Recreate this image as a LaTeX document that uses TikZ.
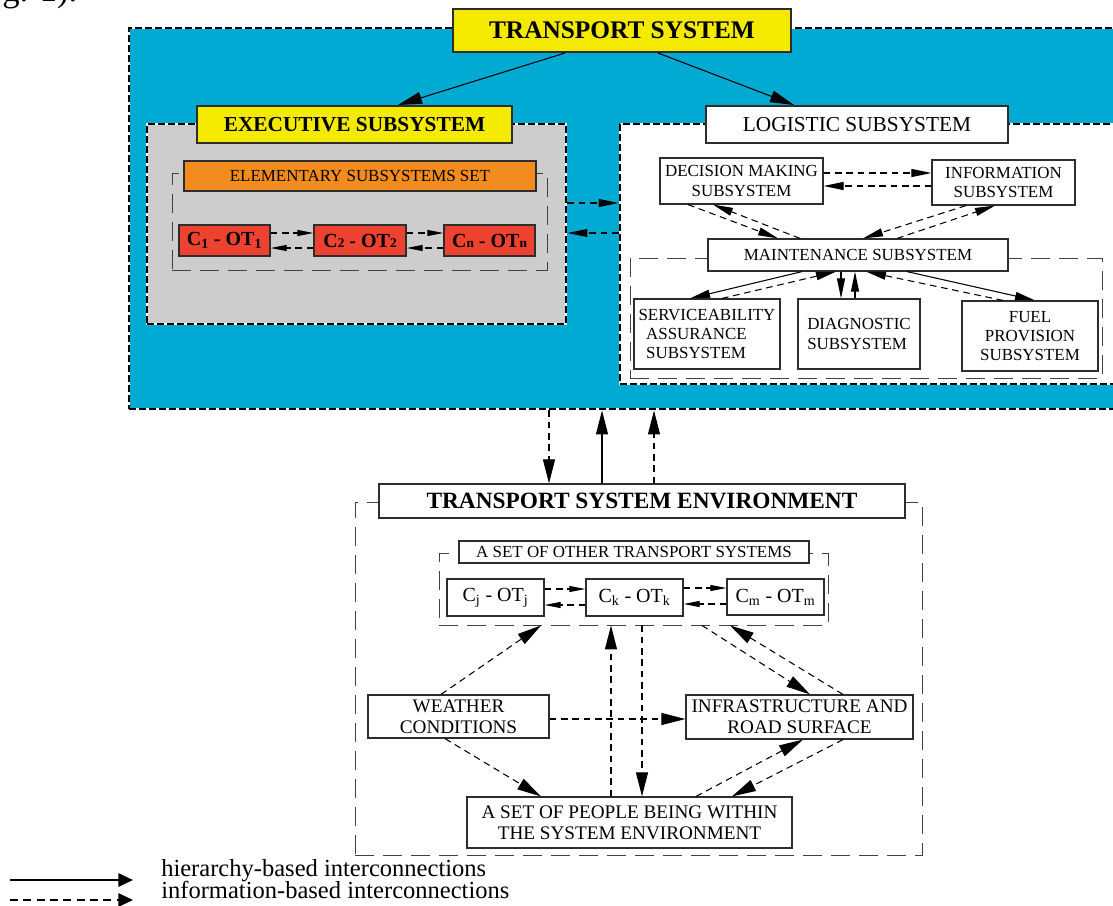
\documentclass[tikz,border=0pt]{standalone}
\usepackage{fontspec}
\setmainfont{Liberation Serif}
\usetikzlibrary{arrows.meta}
\definecolor{tsblue}{RGB}{0,170,210}
\definecolor{tsgray}{RGB}{205,205,205}
\definecolor{tsyellow}{RGB}{243,234,0}
\definecolor{tsorange}{RGB}{243,140,30}
\definecolor{tsred}{RGB}{238,66,48}
\definecolor{edgec}{RGB}{45,45,45}
\newcommand\fsz[2]{\fontsize{#1}{#2}\selectfont}
\newcommand\smidx[1]{{\fontsize{10}{10}\selectfont #1}}
\tikzset{
  spanbox/.style n args={4}{at={({(#1+#3)/2},{(#2+#4)/2})}, anchor=center,
     minimum width={(#3-#1)*0.75pt}, minimum height={(#4-#2)*0.75pt}},
  box/.style={draw=edgec, line width=0.9pt, fill=white, inner sep=0pt, align=center, text=black},
  hbox/.style={box, line width=1.5pt},
  region/.style={draw=white, line width=2.2pt, inner sep=0pt,
    postaction={draw=black, line width=2.2pt, dash pattern=on 5.5pt off 2pt}},
  bracket/.style={draw=black!75, line width=0.7pt, dash pattern=on 14pt off 7pt, inner sep=0pt},
  hier/.style={draw=black, line width=0.8pt},
  info/.style={draw=black, line width=0.8pt, dash pattern=on 5pt off 3.5pt},
  tipS/.style={-{Triangle[length=12pt,width=4.5pt]}},
  tipM/.style={-{Triangle[length=15pt,width=6pt]}},
  tipL/.style={-{Triangle[length=18pt,width=9pt]}},
  tipLeg/.style={-{Triangle[length=11pt,width=10pt]}},
  fsmall/.style={font=\fsz{12.7}{14.5}},
  fbottom/.style={font=\fsz{14.4}{16}},
}
\begin{document}
\begin{tikzpicture}[x=0.75pt,y=-0.75pt]
\useasboundingbox (0,0) rectangle (1113,906);
\clip (0,0) rectangle (1113,906);

% fragment of running text at the top-left corner
\node[anchor=base west, font=\fsz{26}{30}, inner sep=0pt] (figref) at (2,2) {g. 1).};

% ---------------- transport system ----------------
\node[region, fill=tsblue, spanbox={129}{28}{1135}{409}] (blue) {};
\node[region, fill=tsgray, spanbox={147}{124}{566}{324}] (gray) {};
\node[region, fill=white, spanbox={620}{124}{1135}{384}] (logr) {};

\node[hbox, fill=tsyellow, spanbox={453}{9}{791}{52}, font=\fsz{19}{22}\bfseries] (ts) {TRANSPORT SYSTEM};
\node[hbox, fill=tsyellow, spanbox={197}{106}{512}{143}, font=\fsz{16}{19}\bfseries] (exec) {EXECUTIVE SUBSYSTEM};
\node[hbox, spanbox={706}{106}{1008}{143}, font=\fsz{16}{19}] (logt) {LOGISTIC SUBSYSTEM};

% executive subsystem content
\node[bracket, spanbox={172}{173}{547}{270}] (ebr) {};
\node[box, fill=tsorange, spanbox={184}{161}{536}{191}, fsmall] (ess) {ELEMENTARY SUBSYSTEMS SET};
\node[box, fill=tsred, spanbox={179}{225}{270}{256}, font=\fsz{15}{17}\bfseries] (c1) {C\textsubscript{1} - OT\textsubscript{1}};
\node[box, fill=tsred, spanbox={314}{225}{406}{256}, font=\fsz{15}{17}\bfseries] (c2) {C\smidx{2} - OT\smidx{2}};
\node[box, fill=tsred, spanbox={444}{225}{535}{256}, font=\fsz{15}{17}\bfseries] (cn) {C\smidx{n} - OT\smidx{n}};

% logistic subsystem content
\node[bracket, spanbox={630}{258}{1102}{378}] (mbr) {};
\node[box, spanbox={660}{158}{823}{204}, fsmall] (dec) {DECISION MAKING\\SUBSYSTEM};
\node[box, spanbox={932}{160}{1075}{205}, fsmall] (inf) {INFORMATION\\SUBSYSTEM};
\node[box, spanbox={708}{239}{1008}{271}, fsmall] (mnt) {MAINTENANCE SUBSYSTEM};
\node[box, spanbox={634}{299}{780}{369}, fsmall, align=left] (srv) {SERVICEABILITY\\\hspace{0.45em}ASSURANCE\\\hspace{0.45em}SUBSYSTEM};
\node[box, spanbox={798}{299}{920}{369}, fsmall, align=left] (dia) {DIAGNOSTIC\\SUBSYSTEM};
\node[box, spanbox={962}{301}{1098}{371}, fsmall] (fuel) {FUEL\\PROVISION\\SUBSYSTEM};

% ---------------- environment ----------------
\node[bracket, spanbox={355}{502}{922}{855}] (envbr) {};
\node[box, spanbox={379}{484}{905}{518}, font=\fsz{17.5}{20}\bfseries] (env) {TRANSPORT SYSTEM ENVIRONMENT};
\node[bracket, spanbox={439}{553}{828}{625}] (setbr) {};
\node[box, spanbox={459}{541}{809}{563}, fsmall] (set) {A SET OF OTHER TRANSPORT SYSTEMS};
\node[box, spanbox={447}{579}{544}{616}, font=\fsz{15}{17}] (cj) {C\textsubscript{j} - OT\textsubscript{j}};
\node[box, spanbox={586}{579}{683}{616}, font=\fsz{15}{17}] (ck) {C\textsubscript{k} - OT\textsubscript{k}};
\node[box, spanbox={727}{579}{824}{615}, font=\fsz{15}{17}] (cm) {C\textsubscript{m} - OT\textsubscript{m}};
\node[box, spanbox={368}{695}{549}{738}, fbottom] (wea) {WEATHER\\CONDITIONS};
\node[box, spanbox={686}{695}{913}{739}, fbottom] (infra) {INFRASTRUCTURE AND\\ROAD SURFACE};
\node[box, spanbox={467}{797}{792}{848}, fbottom] (people) {A SET OF PEOPLE BEING WITHIN\\THE SYSTEM ENVIRONMENT};

% ---------------- connectors ----------------
\draw[hier, tipL] (ts.south -| 565,0) -- (exec.north -| 398,0);
\draw[hier, tipL] (ts.south -| 658,0) -- (logt.north -| 794,0);

\draw[info, tipM] (gray.east |- 0,203) -- (logr.west |- 0,203);
\draw[info, tipM] (logr.west |- 0,233) -- (gray.east |- 0,233);

\draw[info, tipS] (c1.east |- 0,233) -- (c2.west |- 0,233);
\draw[info, tipS] (c2.west |- 0,248) -- (c1.east |- 0,248);
\draw[info, tipS] (c2.east |- 0,233) -- (cn.west |- 0,233);
\draw[info, tipS] (cn.west |- 0,248) -- (c2.east |- 0,248);

\draw[info, tipM] (dec.east |- 0,173) -- (inf.west |- 0,173);
\draw[info, tipM] (inf.west |- 0,186) -- (dec.east |- 0,186);
\draw[info, tipM] (dec.south -| 688,0) -- (mnt.north -| 778,0);
\draw[info, tipM] (mnt.north -| 800,0) -- (dec.south -| 713,0);
\draw[info, tipM] (inf.south -| 966,0) -- (mnt.north -| 863,0);
\draw[info, tipM] (mnt.north -| 897,0) -- (inf.south -| 995,0);

\draw[hier, tipM] (mnt.south -| 802,0) -- (srv.north -| 690,0);
\draw[info, tipM] (srv.north -| 722,0) -- (mnt.south -| 836,0);
\draw[hier, tipM] (mnt.south -| 841,0) -- (dia.north -| 841,0);
\draw[hier, tipM] (dia.north -| 855,0) -- (mnt.south -| 855,0);
\draw[hier, tipM] (mnt.south -| 907,0) -- (fuel.north -| 1035,0);
\draw[info, tipM] (fuel.north -| 1003,0) -- (mnt.south -| 866,0);

\draw[info, tipL] (blue.south -| 549,0) -- (env.north -| 549,0);
\draw[hier, tipL] (env.north -| 602,0) -- (blue.south -| 602,0);
\draw[info, tipL] (env.north -| 654,0) -- (blue.south -| 654,0);

\draw[info, tipS] (cj.east |- 0,589) -- (ck.west |- 0,589);
\draw[info, tipS] (ck.west |- 0,605) -- (cj.east |- 0,605);
\draw[info, tipS] (ck.east |- 0,588) -- (cm.west |- 0,588);
\draw[info, tipS] (cm.west |- 0,604) -- (ck.east |- 0,604);

\draw[info, tipL] (wea.north -| 441,0) -- (setbr.south -| 541,0);
\draw[info, tipL] (wea.east |- 0,719) -- (infra.west |- 0,719);
\draw[info, tipL] (wea.south -| 445,0) -- (people.north -| 541,0);
\draw[info, tipL] (people.north -| 611,0) -- (setbr.south -| 611,0);
\draw[info, tipL] (setbr.south -| 642,0) -- (people.north -| 642,0);
\draw[info, tipL] (setbr.south -| 702,0) -- (infra.north -| 810,0);
\draw[info, tipL] (infra.north -| 843,0) -- (setbr.south -| 730,0);
\draw[info, tipL] (people.north -| 696,0) -- (infra.south -| 803,0);
\draw[info, tipL] (infra.south -| 843,0) -- (people.north -| 732,0);

% ---------------- legend ----------------
\coordinate (la1) at (10,880);
\coordinate (la2) at (133,880);
\coordinate (lb1) at (10,900);
\coordinate (lb2) at (133,900);
\draw[hier, tipLeg, line width=1.4pt] (la1) -- (la2);
\draw[info, tipLeg, line width=1.4pt, dash pattern=on 6pt off 4pt] (lb1) -- (lb2);
\node[anchor=base west, inner sep=0pt, font=\fsz{18.4}{21}] (lt1) at (161,876) {hierarchy-based interconnections};
\node[anchor=base west, inner sep=0pt, font=\fsz{18.4}{21}] (lt2) at (161,898) {information-based interconnections};
\end{tikzpicture}
\end{document}
